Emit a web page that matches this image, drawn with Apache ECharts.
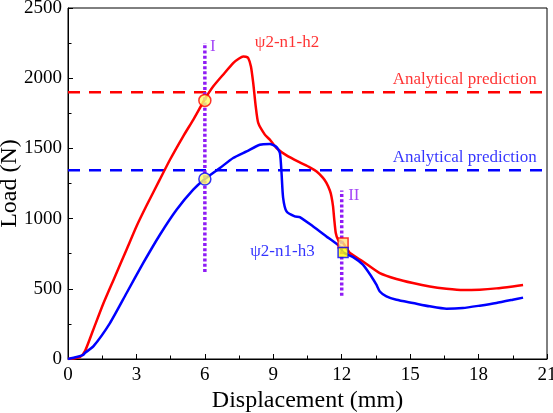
<!DOCTYPE html>
<html><head><meta charset="utf-8">
<script src="https://cdn.jsdelivr.net/npm/echarts@6/dist/echarts.min.js"></script>
<style>html,body{margin:0;padding:0;background:#fff}#c{width:553px;height:413px}</style>
</head><body><div id="c"></div>
<script>
const FONT = 'Liberation Serif';
const redX = [0,0.3,0.53,0.74,1.1,1.55,2.0,2.57,3.0,3.45,4.0,4.47,5.05,5.49,6.0,6.37,6.8,7.24,7.5,7.68,7.8,7.9,8.02,8.12,8.23,8.34,8.63,8.85,9.14,9.58,10.16,10.6,10.9,11.18,11.33,11.48,11.55,11.62,11.67,11.74,11.84,12.06,12.36,12.93,13.67,14.4,15.12,15.86,16.59,17.31,18.05,18.78,19.5,19.95];
const redY = [0,5,14,54,205,395,565,780,944,1095,1270,1419,1586,1704,1850,1942,2025,2108,2140,2155,2153,2144,2084,1966,1799,1681,1598,1562,1503,1450,1400,1365,1335,1290,1254,1200,1158,1087,1000,897,850,826,755,695,612,570,541,517,501,491,494,503,517,527];
const blueX = [0,0.38,0.67,0.74,1.11,1.84,2.57,3.3,4.03,4.76,5.49,6.0,6.66,7.24,7.83,8.41,8.85,9.14,9.29,9.36,9.43,9.58,9.94,10.16,10.75,11.33,11.91,12.06,12.5,12.93,13.3,13.52,13.67,13.96,14.4,15.12,15.86,16.59,17.31,18.05,18.78,19.5,19.95];
const blueY = [0,14,30,43,90,256,470,684,885,1063,1206,1282,1360,1432,1479,1526,1531,1510,1467,1330,1150,1051,1016,1011,944,873,802,760,726,672,588,529,481,446,422,399,375,358,363,380,399,422,437];
const predRed = 1900;
const predBlue = 1345;
const stageX = [6, 12];
const stageYFrom = [620, 450];
const stageYTo = [2250, 1200];
const stageNames = ['I', 'II'];
const stageLabelX = [6.35, 12.53];
const stageLabelY = [2224, 1163];
const redMarkX = [6.0, 12.06];
const redMarkY = [1842, 826];
const blueMarkX = [6.0, 12.06];
const blueMarkY = [1282, 759];
const curveNames = ['ψ2-n1-h2', 'ψ2-n1-h3'];
const curveLabelX = [9.6, 9.4];
const curveLabelY = [2253, 764];
const predText = 'Analytical prediction';
const predLabelX = 17.39;
const predLabelY = [1994, 1432];
const xTicks = {min:0, max:21, interval:3};
const yTicks = {min:0, max:2500, interval:500};

const zip = (a, b) => a.map((v, i) => [v, b[i]]);
const RED = '#ff0000', BLUE = '#0000ff', PURPLE = '#8f1cf5';

const textSeries = (name, x, y, color) => ({
  type: 'scatter', symbolSize: 0, silent: true, z: 10,
  data: [[x, y]],
  label: {show: true, position: 'inside', formatter: name, color: color, fontFamily: FONT, fontSize: 17}
});

const chart = echarts.init(document.getElementById('c'));
const series = [
  {type: 'line', data: zip(redX, redY), showSymbol: false, smooth: 0.2,
   lineStyle: {color: RED, width: 2.5, join: 'round'}, z: 3},
  {type: 'line', data: zip(blueX, blueY), showSymbol: false, smooth: 0.2,
   lineStyle: {color: BLUE, width: 2.5, join: 'round'}, z: 3},
  {type: 'line', data: [[xTicks.min, predRed], [xTicks.max, predRed]], showSymbol: false,
   lineStyle: {color: RED, width: 2.5, type: [12, 9]}, z: 2},
  {type: 'line', data: [[xTicks.min, predBlue], [xTicks.max, predBlue]], showSymbol: false,
   lineStyle: {color: BLUE, width: 2.5, type: [12, 9]}, z: 2}
];
stageX.forEach((sx, i) => {
  series.push({type: 'line', data: [[sx, stageYFrom[i]], [sx, stageYTo[i]]], showSymbol: false,
    lineStyle: {color: PURPLE, width: 3.5, type: [3, 2.2]}, z: 4});
  series.push(textSeries(stageNames[i], stageLabelX[i], stageLabelY[i], PURPLE));
});
series.push({type: 'scatter', data: [zip(redMarkX, redMarkY)[0]], symbol: 'circle', symbolSize: 12, z: 6,
  itemStyle: {color: '#ffff66', borderColor: RED, borderWidth: 1.5}});
series.push({type: 'scatter', data: [zip(blueMarkX, blueMarkY)[0]], symbol: 'circle', symbolSize: 12, z: 6,
  itemStyle: {color: '#ffff66', borderColor: BLUE, borderWidth: 1.5}});
series.push({type: 'scatter', data: [zip(redMarkX, redMarkY)[1]], symbol: 'rect', symbolSize: 10, z: 6,
  itemStyle: {color: '#ffe680', borderColor: RED, borderWidth: 1.5}});
series.push({type: 'scatter', data: [zip(blueMarkX, blueMarkY)[1]], symbol: 'rect', symbolSize: 10, z: 7,
  itemStyle: {color: '#ffff00', borderColor: BLUE, borderWidth: 1.5}});
series.push(textSeries(curveNames[0], curveLabelX[0], curveLabelY[0], RED));
series.push(textSeries(curveNames[1], curveLabelX[1], curveLabelY[1], BLUE));
series.push(textSeries(predText, predLabelX, predLabelY[0], RED));
series.push(textSeries(predText, predLabelX, predLabelY[1], BLUE));

const axisCommon = {
  axisLine: {show: true, onZero: false, lineStyle: {color: '#000', width: 1}},
  axisTick: {show: true, inside: true, length: 5, lineStyle: {color: '#000'}},
  minorTick: {show: true, splitNumber: 2, length: 3.5, lineStyle: {color: '#000'}},
  splitLine: {show: false},
  minorSplitLine: {show: false},
  nameMoveOverlap: false,
  nameTextStyle: {fontFamily: FONT, fontSize: 24, color: '#000'}
};

chart.setOption({
  animation: false,
  backgroundColor: '#fff',
  grid: {left: 68, right: 6, top: 8, bottom: 54, containLabel: false, outerBoundsMode: 'none',
    show: true, borderColor: '#000', borderWidth: 1, backgroundColor: 'transparent'},
  xAxis: Object.assign({type: 'value', min: xTicks.min, max: xTicks.max, interval: xTicks.interval,
    name: 'Displacement (mm)', nameLocation: 'middle', nameGap: 30,
    axisLabel: {fontFamily: FONT, fontSize: 19, color: '#000', margin: 7, formatter: v => String(v)}}, axisCommon),
  yAxis: Object.assign({type: 'value', min: yTicks.min, max: yTicks.max, interval: yTicks.interval,
    name: 'Load (N)', nameLocation: 'middle', nameGap: 46,
    axisLabel: {fontFamily: FONT, fontSize: 19, color: '#000', margin: 6, formatter: v => String(v)}}, axisCommon),
  series: series
});
</script></body></html>
